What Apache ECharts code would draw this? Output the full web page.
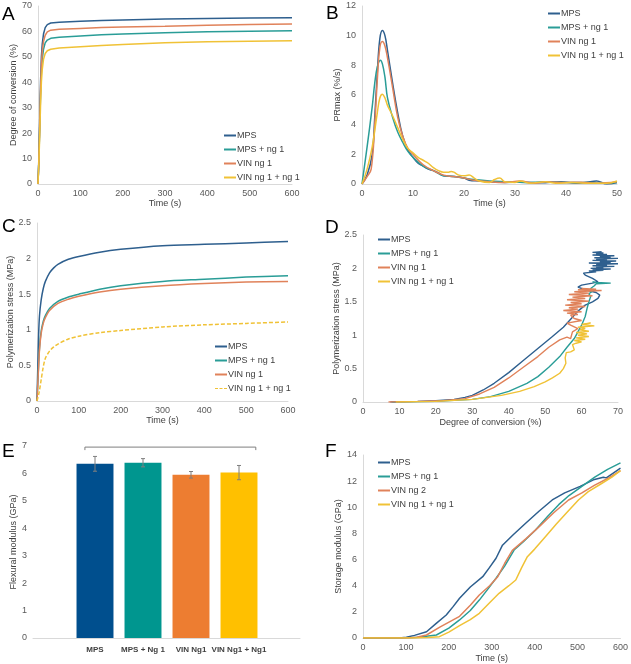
<!DOCTYPE html>
<html><head><meta charset="utf-8">
<script src="https://cdn.jsdelivr.net/npm/echarts@6/dist/echarts.min.js"></script>
<style>html,body{margin:0;padding:0;background:#fff}#c{width:631px;height:664px}</style>
</head><body><div id="c"></div>
<script>
// ---------- DATA ----------
const namesStd = ['MPS', 'MPS + ng 1', 'VIN ng 1', 'VIN ng 1 + ng 1'];
const namesF = ['MPS', 'MPS + ng 1', 'VIN ng 2', 'VIN ng 1 + ng 1'];
const colors = ['#2E5F8E', '#2A9D97', '#E0825A', '#F0C236'];

// A: degree of conversion (%) vs time (s)
const aMPS = [[0,0],[2,10],[4,25],[6,40],[8,50],[10,55],[13,59],[17,61.5],[22,62.7],[30,63.3],[50,63.6],[100,64],[150,64.3],[200,64.5],[300,64.9],[400,65.1],[500,65.3],[600,65.4]];
const aMPSng = [[0,0],[2,9],[4,22],[6,35],[8,44],[10,49],[13,53],[17,55.5],[22,56.6],[30,57.3],[50,57.7],[100,58.2],[150,58.7],[200,59],[300,59.5],[400,59.9],[500,60.1],[600,60.3]];
const aVIN = [[0,0],[2,9],[4,23],[6,37],[8,47],[10,52],[13,56],[17,58.5],[22,59.8],[30,60.5],[50,60.9],[100,61.2],[150,61.5],[200,61.7],[300,62],[400,62.4],[500,62.7],[600,62.9]];
const aVINng = [[0,0],[2,8],[4,19],[6,31],[8,40],[10,45],[13,49],[17,51.3],[22,52.4],[30,53],[50,53.5],[100,54],[150,54.5],[200,54.9],[300,55.5],[400,55.9],[500,56.1],[600,56.3]];

// B: PRmax (%/s) vs time (s)
const bMPS = [[0,0],[1,0.6],[2,2],[2.5,4.5],[3,7.5],[3.5,9.8],[4,10.35],[4.5,10],[5,9],[6,6.8],[7,4.8],[8,3.2],[9,2.3],[10,1.8],[11,1.4],[12,1.2],[13,1],[14,0.9],[15,0.75],[16,0.55],[18,0.5],[20,0.4],[21,0.25],[23,0.2],[25,0.15],[28,0.1],[31,0.12],[35,0.08],[39,0.15],[42,0.05],[44,0.12],[46,0.2],[48,0],[50,0.1]];
const bMPSng = [[0,0],[1,2.5],[2,5.2],[2.5,6.8],[3,7.9],[3.6,8.35],[4,8.1],[4.5,7.2],[5,5.8],[6,4.5],[7,3.5],[8,2.8],[9,2.2],[10,1.8],[12,1.2],[14,0.9],[16,0.55],[18,0.5],[20,0.4],[22,0.3],[25,0.2],[28,0.15],[32,0.1],[36,0.15],[40,0.1],[44,0.1],[47,0.05],[50,0.1]];
const bVIN = [[0,0],[1,0.5],[1.8,1],[2.5,4],[3,7],[3.5,9.2],[4,9.6],[4.5,9.3],[5,8.5],[6,6.5],[7,4.5],[8,3.2],[9,2.4],[10,2],[12,1.3],[14,0.9],[16,0.6],[18,0.5],[20,0.4],[22,0.25],[25,0.15],[28,0.1],[31,0.2],[34,0.05],[36,0.15],[40,0.1],[43,0.12],[46,0.05],[50,0.15]];
const bVINng = [[0,0],[1,1],[2,2.5],[3,4.8],[3.5,5.8],[4,6.05],[4.5,5.8],[5,5.3],[6,4.6],[7,3.8],[8,3],[9,2.4],[10,2.1],[11,1.8],[12,1.6],[13,1.4],[14,1.1],[15,0.9],[16,0.8],[17,0.8],[17.5,0.85],[18,0.8],[19,0.6],[20,0.55],[21,0.6],[22,0.4],[23,0.2],[25,0.1],[26,0.3],[27,0.4],[28,0.15],[30,0.1],[31,0.2],[33,0.05],[36,0.15],[38,0.05],[41,0.1],[45,0.05],[48,0.05],[50,0.2]];

// C: polymerization stress (MPa) vs time (s)
const cMPS = [[0,0],[2,0.5],[4,0.95],[6,1.2],[10,1.42],[15,1.58],[20,1.68],[30,1.8],[40,1.87],[50,1.92],[75,1.99],[100,2.03],[150,2.09],[200,2.13],[300,2.18],[400,2.2],[500,2.22],[600,2.24]];
const cMPSng = [[0,0],[3,0.4],[6,0.75],[10,0.98],[15,1.12],[20,1.2],[30,1.3],[50,1.4],[75,1.46],[100,1.5],[150,1.57],[200,1.62],[300,1.68],[400,1.71],[500,1.74],[600,1.76]];
const cVIN = [[0,0],[3,0.38],[6,0.72],[10,0.95],[15,1.09],[20,1.17],[30,1.27],[50,1.37],[75,1.43],[100,1.47],[150,1.53],[200,1.57],[300,1.62],[400,1.65],[500,1.67],[600,1.68]];
const cVINng = [[0,0],[5,0.12],[10,0.3],[15,0.48],[20,0.6],[30,0.7],[40,0.76],[50,0.8],[75,0.87],[100,0.91],[150,0.96],[200,0.99],[300,1.04],[400,1.07],[500,1.09],[600,1.11]];

// D: polymerization stress (MPa) vs degree of conversion (%)
const dMPS = [[7.5,0],[15,0.01],[20,0.02],[25,0.04],[28,0.07],[30,0.1],[33,0.18],[36,0.28],[40,0.44],[44,0.62],[48,0.8],[52,0.98],[55,1.12],[57,1.24],[59,1.36],[61,1.45],[63,1.5],[64.5,1.55],[65,1.6],[64,1.64],[61,1.68],[59,1.72],[60,1.75],[63,1.78],[64.5,1.8],[63,1.85],[61,1.9],[60.5,1.93],[64,1.95],[62,1.96],[66,1.97],[63,1.98],[68,1.99],[62.5,2.0],[66,2.01],[64,2.02],[69,2.03],[63,2.04],[67,2.05],[64,2.06],[70,2.07],[62,2.08],[68,2.09],[65,2.1],[69.5,2.11],[63,2.12],[67,2.13],[64,2.14],[70,2.15],[63.5,2.16],[68,2.17],[65,2.18],[69,2.19],[63,2.2],[67,2.21],[64,2.22],[66,2.23],[63,2.24],[65.5,2.25]];
const dMPSng = [[8,0],[20,0.01],[30,0.04],[35,0.08],[40,0.16],[45,0.28],[48,0.38],[51,0.52],[54,0.68],[56,0.82],[58,0.95],[59,1.05],[60,1.15],[61,1.28],[61.5,1.4],[62,1.5],[62.5,1.58],[62,1.62],[63,1.66],[62.5,1.7],[63.5,1.74],[64,1.77],[68,1.78],[64,1.79],[63,1.8]];
const dVIN = [[7,0],[15,0.01],[22,0.02],[28,0.05],[32,0.12],[36,0.22],[40,0.36],[44,0.52],[48,0.68],[51,0.82],[54,0.93],[56,0.97],[57,0.95],[57.5,1.05],[59,1.1],[57,1.15],[56,1.18],[60,1.22],[58,1.25],[57,1.3],[59,1.31],[56,1.33],[60,1.35],[55,1.37],[59,1.39],[56.5,1.41],[61,1.43],[55.5,1.45],[60,1.47],[57,1.49],[62,1.51],[56,1.53],[61,1.55],[57.5,1.57],[63,1.59],[56.5,1.61],[62,1.63],[58,1.65],[65.5,1.67],[59,1.68],[64,1.69],[60,1.7],[62,1.68]];
const dVINng = [[9,0],[20,0.01],[30,0.04],[38,0.1],[43,0.16],[47,0.23],[50,0.3],[52,0.36],[54,0.43],[55,0.5],[55.7,0.58],[55.5,0.66],[55.8,0.74],[57,0.75],[58,0.78],[57.5,0.86],[58.5,0.88],[60,0.9],[58,0.92],[61,0.94],[58.5,0.96],[62,0.98],[59,1.0],[61.5,1.02],[58.5,1.04],[62,1.06],[59.5,1.08],[61,1.1],[59,1.12],[63.5,1.14],[60,1.16],[62.5,1.18],[60.5,1.17]];

// E: flexural modulus (GPa)
const catsE = ['MPS', 'MPS + Ng 1', 'VIN Ng1', 'VIN Ng1 + Ng1'];
const meanE = [6.35, 6.39, 5.95, 6.03];
const errE = [0.27, 0.15, 0.12, 0.26];
const barColorsE = ['#004F8E', '#00968F', '#ED7D31', '#FFC000'];
const bracketE = 6.96;

// F: storage modulus (GPa) vs time (s)
const fMPS = [[0,0],[60,0],[90,0.02],[101,0.05],[120,0.2],[148,0.48],[170,1.1],[194,1.76],[210,2.4],[225,3.04],[250,3.9],[279,4.69],[295,5.4],[310,6.1],[325,7.1],[350,7.9],[379,8.78],[410,9.7],[441,10.56],[470,11.1],[506,11.6],[537,12.1],[560,12.3],[567,12.25],[600,13.0]];
const fMPSng = [[0,0],[100,0],[130,0.05],[171,0.23],[200,0.75],[225,1.38],[250,2.1],[271,2.9],[290,3.7],[310,4.57],[330,5.5],[352,6.73],[375,7.4],[402,8.26],[430,9.3],[456,10.2],[480,10.9],[510,11.6],[540,12.3],[570,12.9],[600,13.4]];
const fVIN = [[0,0],[100,0],[125,0.05],[148,0.23],[180,0.85],[225,1.66],[250,2.5],[271,3.29],[295,4.0],[314,4.69],[330,5.7],[348,6.7],[380,7.6],[410,8.5],[445,9.6],[479,10.56],[510,11.1],[540,11.7],[570,12.2],[600,12.8]];
const fVINng = [[0,0],[120,0],[150,0.03],[178,0.1],[200,0.45],[225,0.94],[250,1.4],[271,1.89],[295,2.7],[317,3.42],[340,4.0],[356,4.44],[370,5.4],[383,6.22],[400,6.8],[425,7.75],[450,8.7],[475,9.6],[502,10.56],[525,11.2],[555,11.8],[580,12.3],[600,12.8]];

// ---------- OPTION ----------
const FONT = 'Liberation Sans';
const txt = '#404040';
const axisGrey = '#D9D9D9';
const dashIcon = 'path://M0,0h3v1h-3z M4.5,0h3v1h-3z M9,0h3v1h-3z';

function valX(gi, min, max, interval, name, nameGap, extra) {
  return Object.assign({
    type: 'value', gridIndex: gi, min, max, interval,
    name, nameLocation: 'middle', nameGap,
    nameTextStyle: { fontFamily: FONT, fontSize: 9, color: txt },
    axisLine: { show: true, lineStyle: { color: axisGrey, width: 1 } },
    axisTick: { show: false },
    axisLabel: { fontFamily: FONT, fontSize: 9, color: '#595959', margin: 5 },
    splitLine: { show: false }
  }, extra || {});
}
function valY(gi, min, max, interval, name, nameGap, extra) {
  return Object.assign({
    type: 'value', gridIndex: gi, min, max, interval,
    name, nameLocation: 'middle', nameGap,
    nameTextStyle: { fontFamily: FONT, fontSize: 9, color: txt },
    axisLine: { show: true, lineStyle: { color: axisGrey, width: 1 } },
    axisTick: { show: false },
    axisLabel: { fontFamily: FONT, fontSize: 9, color: '#595959', margin: 6 },
    splitLine: { show: false }
  }, extra || {});
}
function line(id, label, data, color, ai, extra) {
  return Object.assign({
    type: 'line', name: id + '|' + label, data, xAxisIndex: ai, yAxisIndex: ai,
    symbol: 'none', lineStyle: { color, width: 1.5 }, itemStyle: { color },
    z: 3
  }, extra || {});
}
function legend(id, labels, left, top, dashLast) {
  return {
    data: labels.map((l, k) => (dashLast && k === 3) ? { name: id + '|' + l, icon: dashIcon } : id + '|' + l),
    left, top, orient: 'vertical', icon: 'rect',
    itemWidth: 12, itemHeight: 2, itemGap: 5, padding: 0,
    formatter: n => n.split('|')[1],
    textStyle: { fontFamily: FONT, fontSize: 9, color: txt, padding: [0, 0, 0, -4] }
  };
}

const series = [];
const panels = [
  ['A', namesStd, [aMPS, aMPSng, aVIN, aVINng], 0, false],
  ['B', namesStd, [bMPS, bMPSng, bVIN, bVINng], 1, true],
  ['C', namesStd, [cMPS, cMPSng, cVIN, cVINng], 2, false],
  ['D', namesStd, [dMPS, dMPSng, dVIN, dVINng], 3, false],
  ['F', namesF, [fMPS, fMPSng, fVIN, fVINng], 6, false]
];
panels.forEach(([id, nm, arr, ai, smooth]) => {
  arr.forEach((d, k) => {
    const ex = { smooth: smooth ? 0.4 : (id === 'C' ? 0.3 : false) };
    if (id === 'C' && k === 3) ex.lineStyle = { color: colors[k], width: 1.5, type: [4, 2] };
    if (id === 'D') ex.lineStyle = { color: colors[k], width: 1.4 };
    series.push(line(id, nm[k], d, colors[k], ai, ex));
  });
});

// E bars
series.push({
  type: 'bar', name: 'E|bars', xAxisIndex: 4, yAxisIndex: 4, barWidth: '77%',
  data: meanE.map((v, i) => ({ value: v, itemStyle: { color: barColorsE[i] } })), z: 2
});
// E error bars
series.push({
  type: 'custom', name: 'E|err', xAxisIndex: 4, yAxisIndex: 4, z: 4,
  data: meanE.map((m, i) => [i, m - errE[i], m + errE[i]]),
  encode: { x: 0, y: [1, 2] },
  renderItem: (params, api) => {
    const lo = api.coord([api.value(0), api.value(1)]);
    const hi = api.coord([api.value(0), api.value(2)]);
    const st = { stroke: '#7F7F7F', lineWidth: 1 };
    return { type: 'group', children: [
      { type: 'line', shape: { x1: hi[0], y1: hi[1], x2: lo[0], y2: lo[1] }, style: st },
      { type: 'line', shape: { x1: hi[0] - 2, y1: hi[1], x2: hi[0] + 2, y2: hi[1] }, style: st },
      { type: 'line', shape: { x1: lo[0] - 2, y1: lo[1], x2: lo[0] + 2, y2: lo[1] }, style: st }
    ]};
  }
});
// E bracket
series.push({
  type: 'custom', name: 'E|bracket', xAxisIndex: 4, yAxisIndex: 4, z: 4,
  data: [[0, 3, bracketE]],
  encode: { x: [0, 1], y: 2 },
  renderItem: (params, api) => {
    const a = api.coord([api.value(0), api.value(2)]);
    const b = api.coord([api.value(1), api.value(2)]);
    const bw = api.size([1, 0])[0];
    const x1 = a[0] - 0.21 * bw, x2 = b[0] + 0.35 * bw, y = a[1];
    return { type: 'polyline', shape: { points: [[x1, y + 3], [x1, y], [x2, y], [x2, y + 3]] },
      style: { stroke: '#7F7F7F', lineWidth: 1, fill: null } };
  }
});

const letter = (t, left, top) => ({ text: t, left, top, padding: 0,
  textStyle: { fontFamily: FONT, fontSize: 19, fontWeight: 'normal', color: '#000' } });

const option = {
  animation: false,
  backgroundColor: '#fff',
  title: [letter('A', 2, 5), letter('B', 326, 4), letter('C', 2, 217), letter('D', 325, 218), letter('E', 2, 442), letter('F', 325, 442)],
  grid: [
    { left: 38, top: 6, width: 254, height: 178 },
    { left: 362, top: 6, width: 255, height: 178 },
    { left: 37, top: 223, width: 251, height: 178 },
    { left: 363, top: 235, width: 255, height: 167 },
    { left: 71, top: 446, width: 192, height: 192 },
    { left: 33, top: 446, width: 267, height: 192 },
    { left: 363, top: 455, width: 259, height: 183 }
  ],
  xAxis: [
    valX(0, 0, 600, 100, 'Time (s)', 15),
    valX(1, 0, 50, 10, 'Time (s)', 15),
    valX(2, 0, 600, 100, 'Time (s)', 14),
    valX(3, 0, 70, 10, 'Degree of conversion (%)', 16),
    { type: 'category', gridIndex: 4, data: catsE, axisLine: { show: false }, axisTick: { show: false },
      axisLabel: { fontFamily: FONT, fontSize: 8, color: txt, fontWeight: 'bold', margin: 8, interval: 0 } },
    valX(5, 0, 1, 1, '', 0, { axisLabel: { show: false } }),
    valX(6, 0, 600, 100, 'Time (s)', 16)
  ],
  yAxis: [
    valY(0, 0, 70, 10, 'Degree of conversion (%)', 14),
    valY(1, 0, 12, 2, 'PRmax (%/s)', 16),
    valY(2, 0, 2.5, 0.5, 'Polymerization stress (MPa)', 17),
    valY(3, 0, 2.5, 0.5, 'Polymerization stress (MPa)', 17),
    { type: 'value', gridIndex: 4, min: 0, max: 7, interval: 1, show: false },
    valY(5, 0, 7, 1, 'Flexural modulus (GPa)', 9, { axisLine: { show: false } }),
    valY(6, 0, 14, 2, 'Storage modulus (GPa)', 14)
  ],
  legend: [
    legend('A', namesStd, 224, 131),
    legend('B', namesStd, 548, 9),
    legend('C', namesStd, 215, 342, true),
    legend('D', namesStd, 378, 235),
    legend('F', namesF, 378, 458)
  ],
  series
};
const chart = echarts.init(document.getElementById('c'), null, { renderer: 'canvas' });
chart.setOption(option);
</script></body></html>
